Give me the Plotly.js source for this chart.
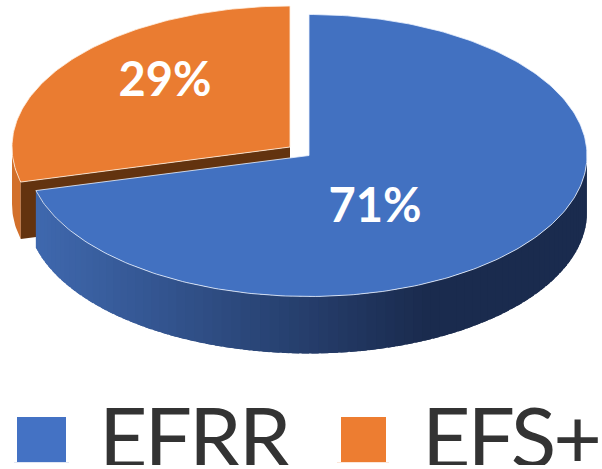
<!DOCTYPE html>
<html>
<head>
<meta charset="utf-8">
<script src="https://cdn.plot.ly/plotly-3.0.1.min.js"></script>
<style>
html,body{margin:0;padding:0;background:#fff}#c{width:602px;height:469px}
.textpoint text[style*="font-size: 84px"]{letter-spacing:-3px}
</style>
</head>
<body>
<div id="c"></div>
<script>
const categories = ["EFRR", "EFS+"];
const values = [71, 29];
const topColors = ["#4271C1", "#EA7C31"];
const swatchColors = ["#4472C4", "#ED7D31"];
const percentLabels = ["71%", "29%"];

// projection of the tilted pie, in the pixel-like units of the axes
const RX = 278, RY = 141, DEPTH = 57;
const blueApex = [309, 155.5, 282], orangeApex = [290, 147, 278];
const total = values[0] + values[1];
const blueEnd = values[0] / total * 360;

function pt(apex, deg, drop) {
  const r = deg * Math.PI / 180, s = Math.sin(r);
  return [apex[0] + (s < 0 ? apex[2] : RX) * s, apex[1] - RY * Math.cos(r) + (drop || 0)];
}
function arc(apex, a, b, drop) {
  const out = [], n = Math.max(2, Math.ceil(Math.abs(b - a)));
  for (let i = 0; i <= n; i++) out.push(pt(apex, a + (b - a) * i / n, drop));
  return out;
}
function poly(points, fill, line, width) {
  return {
    type: "scatter", mode: "lines", hoverinfo: "skip", showlegend: false,
    x: points.map(p => p[0]), y: points.map(p => p[1]),
    fill: "toself", fillcolor: fill,
    line: {color: line || fill, width: width === undefined ? 0 : width}
  };
}
function mix(a, b, t) {
  t = Math.max(0, Math.min(1, t));
  return "rgb(" + a.map((v, i) => Math.round(v + (b[i] - v) * t)).join(",") + ")";
}

const traces = [];
// orange slice: side, cut wall, top
traces.push(poly(arc(orangeApex, blueEnd, 270, 0).concat(arc(orangeApex, 270, blueEnd, DEPTH)), "#D2702B"));
const l = pt(orangeApex, blueEnd);
traces.push(poly([orangeApex, l, [l[0], l[1] + DEPTH], [orangeApex[0], orangeApex[1] + DEPTH]], "#63330F"));
traces.push(poly([orangeApex].concat(arc(orangeApex, blueEnd, 360)).concat([orangeApex]), topColors[1], "rgba(255,240,225,0.8)", 1));
// blue slice: shaded side (strips overlap so no seams show), then top
const step = 2;
for (let a = 90; a < blueEnd; a += step) {
  const b = Math.min(a + step + 1.5, blueEnd);
  const xm = pt(blueApex, a + step / 2)[0];
  const c = mix([63, 104, 174], [26, 43, 78], (xm - 37) / (425 - 37));
  traces.push(poly(arc(blueApex, a, b, 0).concat(arc(blueApex, b, a, DEPTH)), c));
}
traces.push(poly([blueApex].concat(arc(blueApex, 0, blueEnd)).concat([blueApex]), topColors[0], "rgba(235,242,255,0.8)", 1));
// percent labels
traces.push({
  type: "scatter", mode: "text", hoverinfo: "skip", showlegend: false,
  x: [375, 165], y: [210, 84], text: percentLabels, textposition: "middle center",
  textfont: {family: "Lato, 'Open Sans', sans-serif", size: 47, color: "#fff", weight: 700}, cliponaxis: true
});
// legend names (cut off by the bottom of the plot area, as in the reference)
traces.push({
  type: "scatter", mode: "text", hoverinfo: "skip", showlegend: false,
  x: [99, 422], y: [447, 447], text: categories, textposition: "middle right",
  textfont: {family: "Lato, 'Open Sans', sans-serif", size: 84, color: "#333333"}, cliponaxis: true
});

const swatch = (x0, x1, color) => ({type: "rect", xref: "x", yref: "y", x0, x1, y0: 417, y1: 462, fillcolor: color, line: {width: 0}, layer: "above"});
const rule = (x0, x1, color) => ({type: "line", xref: "x", yref: "y", x0, x1, y0: 462.5, y1: 462.5, line: {width: 1, color}, layer: "below"});
const layout = {
  width: 602, height: 469, margin: {l: 0, r: 0, t: 0, b: 4, pad: 0},
  paper_bgcolor: "#fff", plot_bgcolor: "#fff", showlegend: false,
  xaxis: {range: [0, 602], visible: false, fixedrange: true},
  yaxis: {range: [465, 0], visible: false, fixedrange: true},
  shapes: [rule(14, 69, "#DFE6F4"), rule(337, 389, "#FBE6D8"),
           swatch(17, 66, swatchColors[0]), swatch(341, 386, swatchColors[1])]
};
Plotly.newPlot("c", traces, layout, {displayModeBar: false, staticPlot: true});
</script>
</body>
</html>
